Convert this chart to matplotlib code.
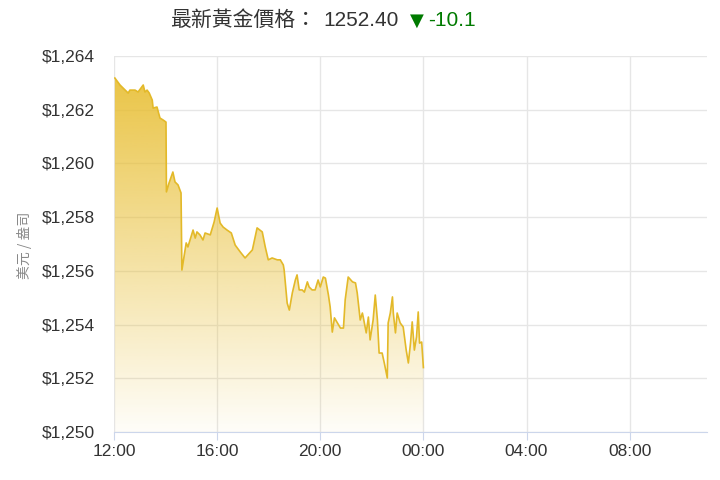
import numpy as np
import matplotlib
matplotlib.use("Agg")
import matplotlib.pyplot as plt
from matplotlib.patches import Polygon

plt.rcParams['font.family'] = ['Liberation Sans', 'Noto Sans CJK TC', 'DejaVu Sans']

# minutes since 12:00 and gold price (USD / oz)
minutes = [2, 14, 26, 33, 37, 49, 56, 68, 72, 77, 82, 89, 91, 100, 107, 114, 121,
           122, 128, 137, 142, 149, 156, 158, 168, 172, 184, 189, 193, 200, 207,
           212, 224, 233, 240, 247, 254, 263, 273, 282, 294, 305, 322, 333, 345,
           352, 359, 368, 380, 387, 394, 396, 403, 408, 415, 422, 426, 431, 438,
           443, 450, 454, 461, 468, 475, 480, 487, 492, 499, 503, 508, 513, 520,
           527, 534, 538, 545, 555, 562, 566, 573, 578, 580, 587, 592, 596, 603,
           608, 613, 617, 624, 629, 636, 638, 643, 648, 650, 655, 659, 666, 673,
           680, 685, 690, 694, 699, 704, 708, 711, 716, 720]
prices = [1263.18, 1262.92, 1262.73, 1262.62, 1262.73, 1262.73, 1262.66, 1262.92,
          1262.66, 1262.73, 1262.62, 1262.36, 1262.06, 1262.10, 1261.69, 1261.62,
          1261.54, 1258.94, 1259.27, 1259.68, 1259.31, 1259.20, 1258.90, 1256.03,
          1257.04, 1256.89, 1257.52, 1257.22, 1257.45, 1257.34, 1257.15, 1257.41,
          1257.34, 1257.82, 1258.34, 1257.78, 1257.63, 1257.52, 1257.41, 1256.96,
          1256.70, 1256.48, 1256.78, 1257.60, 1257.45, 1256.89, 1256.41, 1256.48,
          1256.41, 1256.41, 1256.22, 1256.03, 1254.80, 1254.54, 1255.18, 1255.66,
          1255.85, 1255.29, 1255.29, 1255.21, 1255.59, 1255.40, 1255.29, 1255.29,
          1255.66, 1255.40, 1255.77, 1255.73, 1255.10, 1254.66, 1253.72, 1254.25,
          1254.06, 1253.87, 1253.87, 1254.92, 1255.77, 1255.59, 1255.55, 1255.18,
          1254.17, 1254.43, 1254.28, 1253.69, 1254.28, 1253.43, 1254.17, 1255.10,
          1254.17, 1252.94, 1252.94, 1252.57, 1252.01, 1254.06, 1254.43, 1255.03,
          1254.43, 1253.69, 1254.43, 1254.06, 1253.91, 1253.05, 1252.57, 1253.31,
          1254.10, 1253.05, 1253.54, 1254.47, 1253.31, 1253.35, 1252.40]

tick_minutes = [0, 240, 480, 720, 960, 1200]
tick_labels = ["12:00", "16:00", "20:00", "00:00", "04:00", "08:00"]
y_ticks = [1250, 1252, 1254, 1256, 1258, 1260, 1262, 1264]

fig = plt.figure(figsize=(7.2, 4.8), dpi=100)
ax = fig.add_axes([114 / 720, 1 - 432 / 480, (707 - 114) / 720, (432 - 56) / 480])

ax.set_xlim(0, 1380)
ax.set_ylim(1250, 1264)

# gradient fill under the line
gold = np.array([232, 190, 50]) / 255
grad = np.zeros((256, 1, 4))
grad[:, 0, :3] = gold
grad[:, 0, 3] = np.linspace(0.95, 0.03, 256)
img = ax.imshow(grad, aspect='auto', extent=[0, 1380, 1250, 1264], origin='upper', zorder=1)
poly_pts = [(minutes[0], 1250)] + list(zip(minutes, prices)) + [(minutes[-1], 1250)]
clip = Polygon(poly_pts, closed=True, facecolor='none', edgecolor='none')
ax.add_patch(clip)
img.set_clip_path(clip)

ax.plot(minutes, prices, color='#e3b929', lw=1.2, zorder=3)

ax.set_xticks(tick_minutes)
ax.set_xticklabels(tick_labels)
ax.set_yticks(y_ticks)
ax.set_yticklabels(["${:,}".format(v) for v in y_ticks])
ax.grid(True, color='#e6e6e6', lw=1, zorder=0)
ax.set_axisbelow(True)

for s in ['top', 'right', 'left']:
    ax.spines[s].set_visible(False)
ax.spines['bottom'].set_color('#ccd6eb')
ax.tick_params(axis='x', colors='#ccd6eb', length=6, labelcolor='#333333', labelsize=12.5, pad=3)
ax.tick_params(axis='y', length=0, labelcolor='#333333', labelsize=12.5, pad=14)

fig.text(25 / 720, 1 - 245 / 480, "美元 / 盎司", rotation=90, ha='center', va='center',
         color='#888888', fontsize=10, family=['Noto Sans CJK TC', 'DejaVu Sans'])

# title in pieces
fig.text(170 / 720, 1 - 20 / 480, "最新黃金價格：", ha='left', va='center',
         fontsize=15, color='#333333', family=['Noto Sans CJK TC', 'DejaVu Sans'])
fig.text(323 / 720, 1 - 20 / 480, "1252.40", ha='left', va='center',
         fontsize=15, color='#333333')
fig.text(410 / 720, 1 - 21 / 480, "▼", ha='left', va='center',
         fontsize=13, color='#007a00', family=['DejaVu Sans'])
fig.text(428 / 720, 1 - 20 / 480, "-10.1", ha='left', va='center',
         fontsize=15, color='#007a00')

fig.savefig("out.png", dpi=100)
